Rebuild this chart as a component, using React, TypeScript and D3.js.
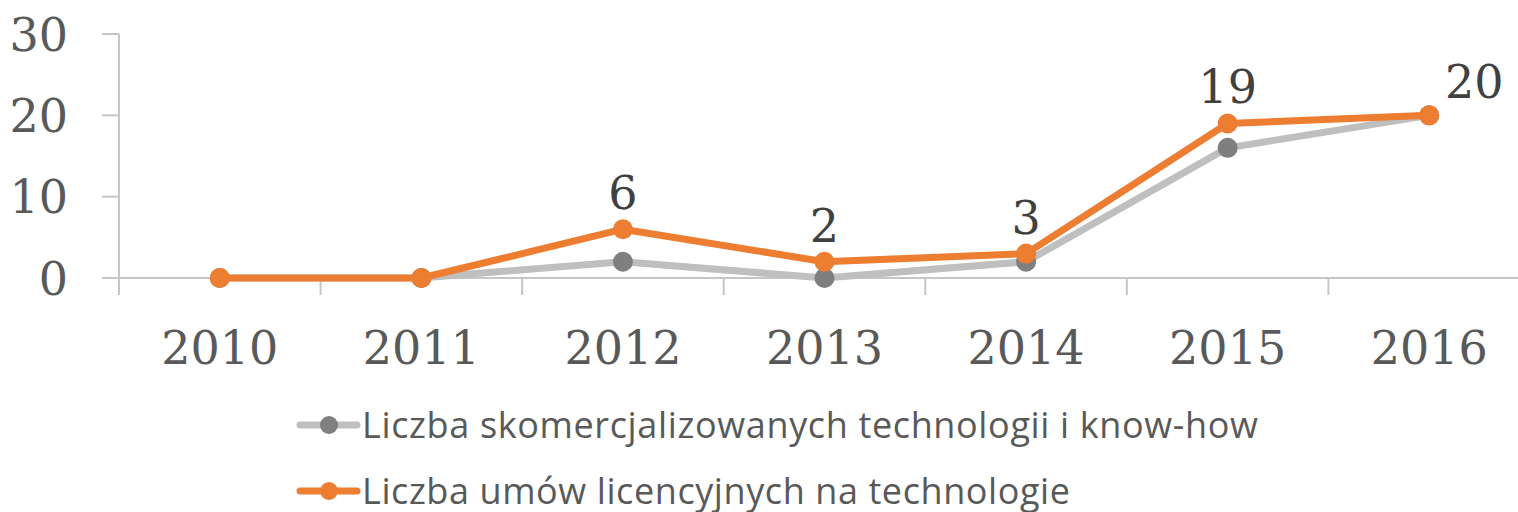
import React from "react";
import * as d3 from "d3";

const years = ["2010", "2011", "2012", "2013", "2014", "2015", "2016"];
const commercialized = [0, 0, 2, 0, 2, 16, 20];
const licenses = [0, 0, 6, 2, 3, 19, 20];
const yTicks = [0, 10, 20, 30];
const seriesNames = [
  "Liczba skomercjalizowanych technologii i know-how",
  "Liczba umów licencyjnych na technologie",
];

const W = 1518;
const H = 512;

export default function App() {
  const x = d3.scaleBand<string>().domain(years).range([119, 1530]).padding(0);
  const y = d3.scaleLinear().domain([0, 30]).range([278, 34]);
  const cx = (d: string) => (x(d) as number) + x.bandwidth() / 2;
  const line = d3
    .line<number>()
    .x((_, i) => cx(years[i]))
    .y((v) => y(v));

  const serif = "'DejaVu Serif', serif";
  const sans = "'Open Sans', sans-serif";
  const boundaries = years.map((d) => x(d) as number).concat([x.range()[1]]);
  const last = years.length - 1;
  const legendLengths = [896, 708];

  return (
    <svg
      width={W}
      height={H}
      style={{ position: "absolute", left: 0, top: 0, background: "#fff" }}
    >
      {/* y axis */}
      <line x1={119} x2={119} y1={y(30)} y2={295} stroke="#c6c6c6" strokeWidth={2} />
      {yTicks.map((t) => (
        <g key={t}>
          <line x1={102} x2={119} y1={y(t)} y2={y(t)} stroke="#c6c6c6" strokeWidth={2} />
          <text
            x={68}
            y={y(t)}
            dy="0.36em"
            textAnchor="end"
            fontFamily={serif}
            fontSize={46}
            fill="#595959"
          >
            {t}
          </text>
        </g>
      ))}
      {/* x axis */}
      <line x1={102} x2={W} y1={y(0)} y2={y(0)} stroke="#c6c6c6" strokeWidth={2} />
      {boundaries.map((b, i) => (
        <line key={i} x1={b} x2={b} y1={y(0)} y2={295} stroke="#c6c6c6" strokeWidth={2} />
      ))}
      {years.map((d) => (
        <text
          key={d}
          x={cx(d)}
          y={364}
          textAnchor="middle"
          fontFamily={serif}
          fontSize={46}
          fill="#595959"
        >
          {d}
        </text>
      ))}
      {/* series */}
      <path d={line(commercialized) || ""} fill="none" stroke="#bfbfbf" strokeWidth={7} strokeLinejoin="round" />
      {commercialized.map((v, i) => (
        <circle key={i} cx={cx(years[i])} cy={y(v)} r={10} fill="#7f7f7f" />
      ))}
      <path d={line(licenses) || ""} fill="none" stroke="#ed7d31" strokeWidth={7} strokeLinejoin="round" />
      {licenses.map((v, i) => (
        <circle key={i} cx={cx(years[i])} cy={y(v)} r={10} fill="#ed7d31" />
      ))}
      {licenses.map((v, i) =>
        v === 0 ? null : (
          <text
            key={i}
            x={cx(years[i]) + (i === last ? 45 : 0)}
            y={y(v) - (i === last ? 17 : 20)}
            textAnchor="middle"
            fontFamily={serif}
            fontSize={46}
            fill="#404040"
          >
            {v}
          </text>
        )
      )}
      {/* legend */}
      {seriesNames.map((name, i) => {
        const ly = 425 + i * 66;
        const color = i === 0 ? "#bfbfbf" : "#ed7d31";
        const mcolor = i === 0 ? "#7f7f7f" : "#ed7d31";
        return (
          <g key={name}>
            <line x1={300} x2={357} y1={ly} y2={ly} stroke={color} strokeWidth={7} strokeLinecap="round" />
            <circle cx={329} cy={ly} r={9} fill={mcolor} />
            <text
              x={362}
              y={ly + 13}
              fontFamily={sans}
              fontSize={36}
              fill="#595959"
              textLength={legendLengths[i]}
              lengthAdjust="spacing"
            >
              {name}
            </text>
          </g>
        );
      })}
    </svg>
  );
}
